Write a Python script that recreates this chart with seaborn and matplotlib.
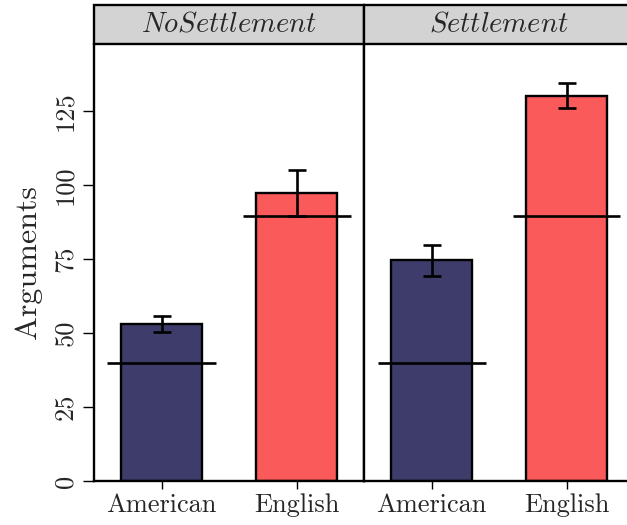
import matplotlib
matplotlib.use("Agg")
import matplotlib.pyplot as plt
from matplotlib.patches import Rectangle
import seaborn as sns
import pandas as pd

# Mean number of arguments per group, with standard errors and reference levels
conditions = ["NoSettlement", "Settlement"]
groups = ["American", "English"]
means = {"NoSettlement": [53.0, 97.3], "Settlement": [74.5, 130.2]}
errors = {"NoSettlement": [2.7, 7.8], "Settlement": [5.2, 4.1]}
reference = [40.0, 89.5]
yticks = [0, 25, 50, 75, 100, 125]

colors = {"American": "#3d3c6b", "English": "#fb5a5a"}

sns.set_theme(style="white")
plt.rcParams["font.family"] = ["cmr10", "DejaVu Serif"]
plt.rcParams["mathtext.fontset"] = "cm"
plt.rcParams["axes.formatter.use_mathtext"] = True

fig = plt.figure(figsize=(6.27, 5.25), dpi=100)
W, H = 627, 525
panel_w = 270
left0, bottom_px, top_px = 94, 481, 44

for i, cond in enumerate(conditions):
    x0 = left0 + i * panel_w
    ax = fig.add_axes([x0 / W, (H - bottom_px) / H, panel_w / W, (bottom_px - top_px) / H])
    df = pd.DataFrame({"group": groups, "value": means[cond]})
    sns.barplot(data=df, x="group", y="value", hue="group", palette=colors,
                order=groups, width=0.6, edgecolor="black", linewidth=1.7,
                saturation=1, legend=False, errorbar=None, ax=ax)
    ax.errorbar(range(len(groups)), means[cond], yerr=errors[cond], fmt="none",
                ecolor="black", elinewidth=1.9, capsize=6.5, capthick=1.9, zorder=5)
    for j, ref in enumerate(reference):
        ax.hlines(ref, j - 0.4, j + 0.4, color="black", linewidth=1.9, zorder=5)
    ax.set_xlim(-0.5, 1.5)
    ax.set_ylim(0, 147.6)
    ax.set_xlabel("")
    ax.set_ylabel("")
    for side in ["left", "right", "bottom"]:
        ax.spines[side].set_visible(True)
        ax.spines[side].set_color("black")
        ax.spines[side].set_linewidth(1.7)
    ax.spines["top"].set_visible(False)
    ax.tick_params(axis="x", direction="out", length=6, width=1.0, color="black",
                   labelsize=19, pad=3, bottom=True)
    if i == 0:
        ax.set_yticks(yticks)
        ax.set_yticklabels([str(t) for t in yticks], rotation=90, va="center")
        ax.tick_params(axis="y", direction="out", length=8, width=1.0, color="black",
                       labelsize=19, pad=4, left=True)
        ax.set_ylabel("Arguments", fontsize=23, labelpad=8)
    else:
        ax.set_yticks([])
    # facet strip
    strip_h = 39 / (bottom_px - top_px)
    ax.add_patch(Rectangle((0, 1), 1, strip_h, transform=ax.transAxes,
                           facecolor="#d3d3d3", edgecolor="black", linewidth=1.7,
                           clip_on=False, zorder=3))
    ax.text(0.5, 1 + strip_h / 2, r"$\mathit{" + cond + "}$", transform=ax.transAxes,
            ha="center", va="center", fontsize=20.5, zorder=4)

fig.savefig("out.png", dpi=100)
